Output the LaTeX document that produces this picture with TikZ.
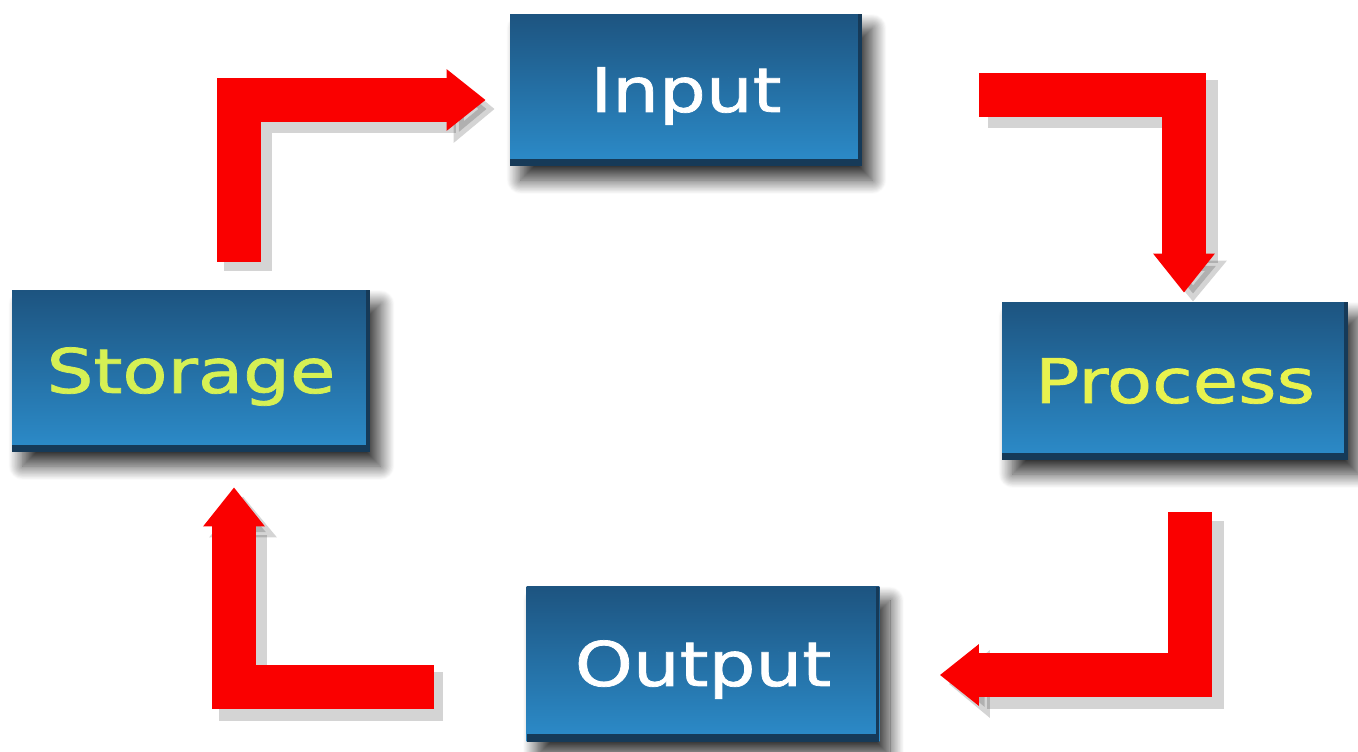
\documentclass[tikz,border=0pt]{standalone}
\usepackage{fontspec}
\newfontfamily\boxfont[FakeStretch=1.2, FakeBold=1.2]{DejaVu Sans}
\usetikzlibrary{arrows.meta,shadows.blur}

\definecolor{boxtop}{RGB}{29,84,128}
\definecolor{boxbottom}{RGB}{44,140,202}
\definecolor{boxedge}{RGB}{22,58,88}
\definecolor{labelyellow}{RGB}{232,242,78}
\definecolor{labelgreen}{RGB}{214,240,84}
\definecolor{arrowred}{RGB}{250,0,0}

\tikzset{
  stagebox/.style={rectangle, top color=boxtop, bottom color=boxbottom,
    text=white, font=\boxfont\fontsize{35}{40}\selectfont,
    text height=25pt, text depth=0pt,
    blur shadow={shadow xshift=6pt, shadow yshift=-8pt,
      shadow blur radius=8pt, shadow blur steps=24, shadow opacity=80},
    path picture={
      \fill[boxedge] (path picture bounding box.south west)
        rectangle ([yshift=4pt]path picture bounding box.south east);
      \fill[boxedge] (path picture bounding box.south east)
        rectangle ([xshift=-2pt]path picture bounding box.north east);}},
  flowarrow/.style={draw=arrowred, line width=0.88cm, line join=miter,
    -{Triangle[length=0.78cm, width=1.18cm]}},
  arrowshade/.style={draw=black, opacity=0.17, line width=0.98cm, line join=miter,
    -{Triangle[length=0.82cm, width=1.3cm]},
    transform canvas={shift={(0.18cm,-0.18cm)}}}
}

\begin{document}
\begin{tikzpicture}[x=0.02cm, y=-0.02cm]
    \useasboundingbox (0,0) rectangle (1358,751);

    % Stages of the cycle
    \node[stagebox, minimum width=7.04cm, minimum height=3.04cm] (input) at (686,90) {Input};
    \node[stagebox, text=labelyellow, minimum width=6.92cm, minimum height=3.16cm] (process) at (1175,381) {Process};
    \node[stagebox, minimum width=7.06cm, minimum height=3.1cm] (output) at (703,664) {Output};
    \node[stagebox, text=labelgreen, minimum width=7.16cm, minimum height=3.24cm] (storage) at (191,371) {Storage};

    % Arrow ends
    \coordinate (s1) at ([shift={(48,-28)}]storage.north);
    \coordinate (e1) at ([shift={(-24,10)}]input.west);
    \coordinate (s2) at ([shift={(117,5)}]input.east);
    \coordinate (e2) at ([shift={(9,-9)}]process.north);
    \coordinate (s3) at ([shift={(15,52)}]process.south);
    \coordinate (e3) at ([shift={(60,11)}]output.east);
    \coordinate (s4) at ([shift={(-92,23)}]output.west);
    \coordinate (e4) at ([shift={(43,35)}]storage.south);

    % Shadows under the arrows
    \draw[arrowshade] (s1) |- (e1);
    \draw[arrowshade] (s2) -| (e2);
    \draw[arrowshade] (s3) |- (e3);
    \draw[arrowshade] (s4) -| (e4);

    % Red arrows
    \draw[flowarrow] (s1) |- (e1);
    \draw[flowarrow] (s2) -| (e2);
    \draw[flowarrow] (s3) |- (e3);
    \draw[flowarrow] (s4) -| (e4);
\end{tikzpicture}
\end{document}
